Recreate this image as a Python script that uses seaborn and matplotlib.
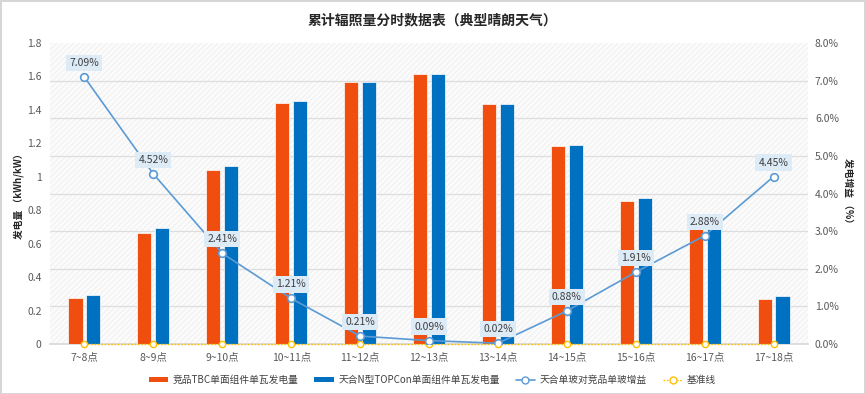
import numpy as np
import pandas as pd
import matplotlib
matplotlib.use("Agg")
import matplotlib.pyplot as plt
import seaborn as sns
from matplotlib.patches import Rectangle
from matplotlib.lines import Line2D
from matplotlib.ticker import FuncFormatter

categories = ["7~8点", "8~9点", "9~10点", "10~11点", "11~12点", "12~13点",
              "13~14点", "14~15点", "15~16点", "16~17点", "17~18点"]
competitor = [0.273, 0.666, 1.041, 1.440, 1.567, 1.615, 1.435, 1.184, 0.857, 0.686, 0.271]
trina = [0.293, 0.692, 1.065, 1.455, 1.567, 1.615, 1.435, 1.192, 0.871, 0.706, 0.285]
gain = [7.09, 4.52, 2.41, 1.21, 0.21, 0.09, 0.02, 0.88, 1.91, 2.88, 4.45]
baseline = [0] * 11

s1 = "竞品TBC单面组件单瓦发电量"
s2 = "天合N型TOPCon单面组件单瓦发电量"
s3 = "天合单玻对竞品单玻增益"
s4 = "基准线"
title = "累计辐照量分时数据表（典型晴朗天气）"

ORANGE = "#F04E0F"
BLUE = "#0070C0"
LINE = "#5B9BD5"
YELLOW = "#FFC000"

sns.set_theme(style="white")
plt.rcParams["font.family"] = ["Noto Sans CJK SC", "DejaVu Sans"]
plt.rcParams["hatch.linewidth"] = 0.4

df = pd.DataFrame({
    "cat": categories * 2,
    "val": competitor + trina,
    "series": [s1] * 11 + [s2] * 11,
})

fig = plt.figure(figsize=(8.65, 3.94), dpi=100)
fig.patch.set_facecolor("white")
fig.patch.set_edgecolor("#D6D6D6")
fig.patch.set_linewidth(2)
ax = fig.add_axes([50 / 865, 50 / 394, 758 / 865, 301 / 394])

# hatched background
ax.add_patch(Rectangle((0, 0), 1, 1, transform=ax.transAxes, facecolor="#FBFBFB",
                       hatch="//////", edgecolor="#E8E8E8", lw=0, zorder=0))

sns.barplot(data=df, x="cat", y="val", hue="series", order=categories,
            palette={s1: ORANGE, s2: BLUE}, saturation=1, width=0.52, gap=0.21,
            edgecolor="#FFFFFF", linewidth=0.5, ax=ax, legend=False, zorder=3)

ax.set_ylim(0, 1.8)
ax.set_xlim(-0.5, 10.5)
ax.set_yticks(np.arange(0, 1.81, 0.2))
ax.yaxis.set_major_formatter(FuncFormatter(lambda v, p: "0" if abs(v) < 1e-9 else ("1" if abs(v - 1) < 1e-9 else f"{v:.1f}")))
ax.set_yticks(np.linspace(0, 1.8, 9), minor=True)
ax.grid(False)
ax.yaxis.grid(True, which="minor", color="#DDDDDD", lw=0.9, zorder=1)
ax.set_axisbelow(True)
for sp in ["top", "right", "left"]:
    ax.spines[sp].set_visible(False)
ax.spines["bottom"].set_color("#D9D9D9")
ax.tick_params(axis="y", which="both", length=0, labelsize=7.5, colors="#595959", pad=6)
ax.tick_params(axis="x", length=0, labelsize=7.5, colors="#595959", pad=6)
ax.set_xticks(np.arange(-0.5, 10.6, 1), minor=True)
ax.tick_params(axis="x", which="minor", length=4, color="#D9D9D9", width=0.8)
ax.set_xlabel("")
ax.set_ylabel("发电量 （kWh/kW）", fontsize=7, fontweight="bold", color="#262626", labelpad=2)

ax2 = ax.twinx()
ax2.set_ylim(0, 8)
ax2.set_yticks(np.arange(0, 8.1, 1))
ax2.yaxis.set_major_formatter(FuncFormatter(lambda v, p: f"{v:.1f}%"))
for sp in ax2.spines.values():
    sp.set_visible(False)
ax2.tick_params(axis="y", length=0, labelsize=7.5, colors="#595959", pad=5)
ax2.set_ylabel("发电增益 （%）", fontsize=7, fontweight="bold", color="#262626",
               rotation=270, labelpad=10)

sns.lineplot(x=categories, y=baseline, ax=ax2, color=YELLOW, lw=1.0, linestyle=(0, (1.2, 1.2)),
             marker="o", markersize=4.5, markerfacecolor="white", markeredgecolor=YELLOW,
             markeredgewidth=1.0, clip_on=False, zorder=4, sort=False)
sns.lineplot(x=categories, y=gain, ax=ax2, color=LINE, lw=1.2,
             marker="o", markersize=5.5, markerfacecolor="white", markeredgecolor=LINE,
             markeredgewidth=1.2, zorder=5, sort=False)
ax2.set_xlim(-0.5, 10.5)

for i, g in enumerate(gain):
    ax2.annotate(f"{g:.2f}%", xy=(i, g), xytext=(0, 14), textcoords="offset pixels",
                 ha="center", va="center", fontsize=7.5, color="#404040", zorder=6,
                 bbox=dict(boxstyle="square,pad=0.3", fc="#DDEBF7", ec="none"))

fig.text(0.5, 1 - 20 / 394, title, ha="center", va="center", fontsize=10,
         fontweight="bold", color="#262626")

handles = [
    Rectangle((0, 0), 1, 1, facecolor=ORANGE, edgecolor="none"),
    Rectangle((0, 0), 1, 1, facecolor=BLUE, edgecolor="none"),
    Line2D([], [], color=LINE, lw=1.2, marker="o", markersize=5, markerfacecolor="white",
           markeredgecolor=LINE),
    Line2D([], [], color=YELLOW, lw=1.0, linestyle=(0, (1.2, 1.2)), marker="o", markersize=5,
           markerfacecolor="white", markeredgecolor=YELLOW),
]
fig.legend(handles, [s1, s2, s3, s4], loc="center", bbox_to_anchor=(0.5, 14 / 394),
           ncol=4, frameon=False, fontsize=7, handlelength=2.0, handleheight=0.45,
           handletextpad=0.5, columnspacing=1.6, labelcolor="#404040")

fig.savefig("out.png", dpi=100, facecolor=fig.get_facecolor(), edgecolor=fig.get_edgecolor())
